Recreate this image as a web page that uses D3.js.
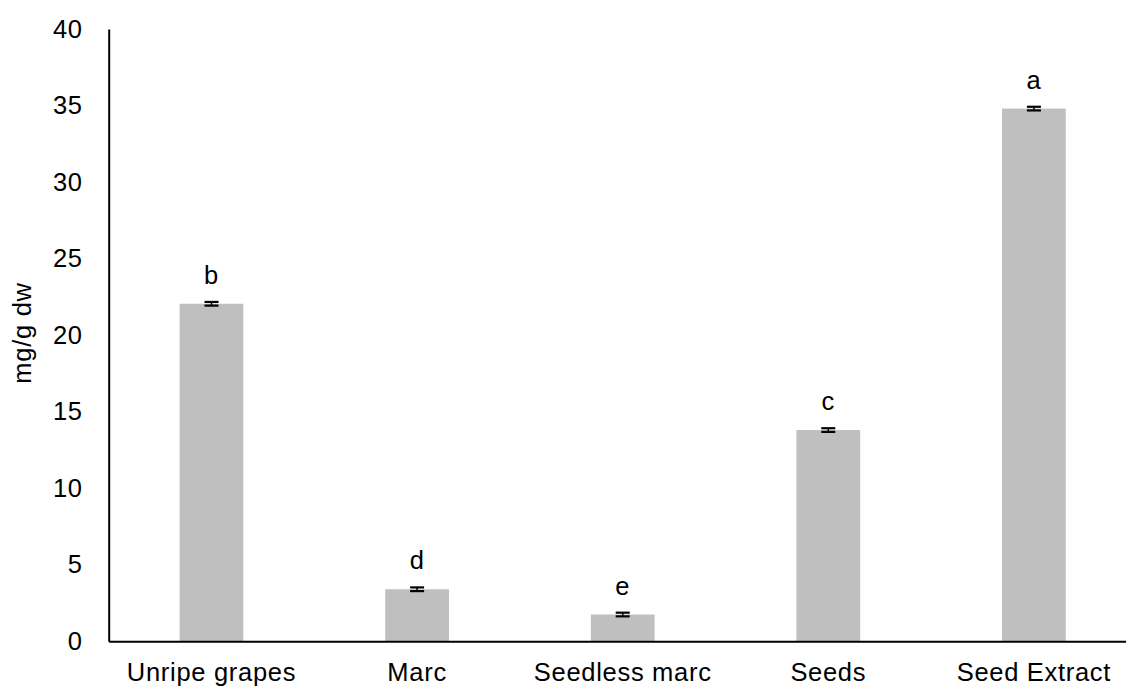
<!DOCTYPE html>
<html><head><meta charset="utf-8">
<script src="https://cdn.jsdelivr.net/npm/d3@7"></script>
<style>body{margin:0;background:#fff}svg{display:block}text{font-family:"Liberation Sans",Arial,sans-serif;fill:#000}</style>
</head><body>
<svg id="c" width="1126" height="688"></svg>
<script>
const categories = ["Unripe grapes","Marc","Seedless marc","Seeds","Seed Extract"];
const values = [22.05, 3.4, 1.75, 13.8, 34.8];
const errors = [0.12, 0.12, 0.12, 0.12, 0.12];
const letters = ["b","d","e","c","a"];
const yTicks = [0,5,10,15,20,25,30,35,40];

const svg = d3.select("#c");
const x = d3.scaleBand().domain(categories).range([108.7, 1136.7]).paddingInner(0.69).paddingOuter(0.345);
const y = d3.scaleLinear().domain([0,40]).range([641.3, 29]);
const fs = "25.5px", ls = "0.7px";

// bars
svg.selectAll("rect.bar").data(categories).join("rect")
  .attr("x", d => x(d)).attr("width", x.bandwidth())
  .attr("y", (d,i) => y(values[i])).attr("height", (d,i) => y(0) - y(values[i]))
  .attr("fill", "#bfbfbf");

// error bars
const eb = svg.append("g").attr("stroke", "#000");
categories.forEach((d,i) => {
  const cx = x(d) + x.bandwidth()/2;
  const hi = y(values[i] + errors[i]), lo = y(values[i] - errors[i]);
  eb.append("line").attr("x1", cx).attr("x2", cx).attr("y1", hi).attr("y2", lo).attr("stroke-width", 1.5);
  eb.append("line").attr("x1", cx-7).attr("x2", cx+7).attr("y1", hi).attr("y2", hi).attr("stroke-width", 2.2);
  eb.append("line").attr("x1", cx-7).attr("x2", cx+7).attr("y1", lo).attr("y2", lo).attr("stroke-width", 2.2);
});

// significance letters
svg.selectAll("text.sig").data(categories).join("text")
  .attr("x", d => x(d) + x.bandwidth()/2)
  .attr("y", (d,i) => y(values[i]) - 20)
  .attr("text-anchor", "middle").style("font-size", fs).style("letter-spacing", ls)
  .text((d,i) => letters[i]);

// y axis
const ya = svg.append("g").attr("transform", "translate(108.7,0)")
  .call(d3.axisLeft(y).tickValues(yTicks).tickSize(0).tickPadding(26));
ya.select(".domain").attr("stroke", "#000").attr("stroke-width", 2);
ya.selectAll("text").style("font-size", fs).style("letter-spacing", ls).attr("font-family", null);

// x axis
const xa = svg.append("g").attr("transform", "translate(0,641.3)")
  .call(d3.axisBottom(x).tickSize(0).tickPadding(22));
xa.select(".domain").attr("stroke", "#000").attr("stroke-width", 2);
xa.selectAll("text").style("font-size", fs).style("letter-spacing", ls).attr("font-family", null);

// y label
svg.append("text").attr("transform", "translate(31,333) rotate(-90)")
  .attr("text-anchor", "middle").style("font-size", fs).style("letter-spacing", ls)
  .text("mg/g dw");
</script>
</body></html>
